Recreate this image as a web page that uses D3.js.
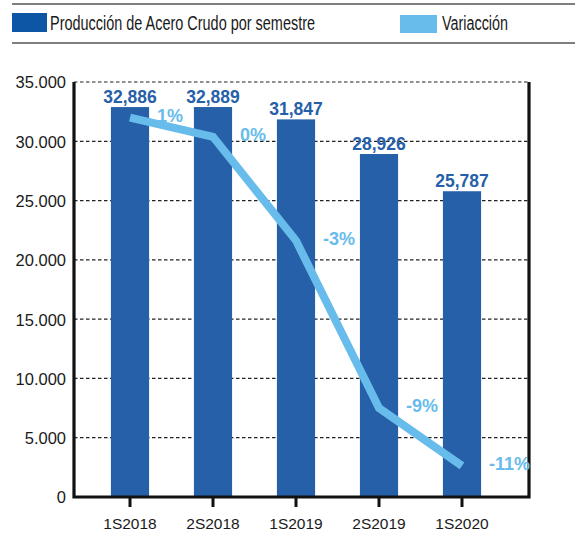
<!DOCTYPE html>
<html>
<head>
<meta charset="utf-8">
<script src="https://cdn.jsdelivr.net/npm/d3@7"></script>
<style>
  body { margin: 0; background: #fff; }
  svg { display: block; }
  .tick-y text { font-family: "Liberation Sans", Arial, sans-serif; font-size: 16.5px; fill: #1a1a1a; }
  .tick-x text { font-family: "Liberation Sans", Arial, sans-serif; font-size: 15.5px; fill: #1a1a1a; }
  .legend text { font-family: "Liberation Sans", Arial, sans-serif; font-size: 19.5px; fill: #1a1a1a; }
</style>
</head>
<body>
<div id="chart"></div>
<script>
const semesters = ['1S2018', '2S2018', '1S2019', '2S2019', '1S2020'];
const production = [32886, 32889, 31847, 28926, 25787];
const productionLabels = ['32,886', '32,889', '31,847', '28,926', '25,787'];
// line positions (hidden secondary scale, %)
const variation = [0.8, 0.15, -3.35, -9.0, -10.95];
const variationLabels = ['1%', '0%', '-3%', '-9%', '-11%'];
const yTicks = [0, 5000, 10000, 15000, 20000, 25000, 30000, 35000];
const legendItems = ['Producción de Acero Crudo por semestre', 'Variacción'];

const width = 575;
const height = 537;
const dark = '#2660a8';
const light = '#67bceb';

const plot = { left: 74, right: 529, top: 82, bottom: 497 };

const locale = d3.formatLocale({ decimal: ',', thousands: '.', grouping: [3], currency: ['', ''] });
const fmt = locale.format(',d');

const svg = d3.select('#chart')
  .append('svg')
    .attr('width', width)
    .attr('height', height);

// legend
const legend = svg.append('g').attr('class', 'legend');

legend.append('line')
  .attr('x1', 12).attr('x2', width)
  .attr('y1', 4).attr('y2', 4)
  .attr('stroke', '#555').attr('stroke-width', 1.5);

legend.append('line')
  .attr('x1', 12).attr('x2', width)
  .attr('y1', 43).attr('y2', 43)
  .attr('stroke', '#555').attr('stroke-width', 1.5);

// the original uses a condensed face; squeeze to the same width
legend.append('rect')
  .attr('x', 12).attr('y', 13).attr('width', 35).attr('height', 19)
  .attr('fill', '#0d56a5');
legend.append('text')
  .attr('x', 50).attr('y', 30)
  .attr('textLength', 265)
  .attr('lengthAdjust', 'spacingAndGlyphs')
  .text(legendItems[0]);

legend.append('rect')
  .attr('x', 400).attr('y', 15).attr('width', 37).attr('height', 18)
  .attr('fill', light);
legend.append('text')
  .attr('x', 442).attr('y', 30)
  .attr('textLength', 66)
  .attr('lengthAdjust', 'spacingAndGlyphs')
  .text(legendItems[1]);

// scales
const xScale = d3.scaleBand()
  .domain(semesters)
  .range([88.5, 503.5])
  .paddingInner(0.54)
  .paddingOuter(0.27);

const yScale = d3.scaleLinear()
  .domain([0, 35000])
  .range([plot.bottom, plot.top]);

const y2Scale = d3.scaleLinear()
  .domain([-12, 2])
  .range([plot.bottom, plot.top]);

const cx = d => xScale(d) + xScale.bandwidth() / 2;

// grid lines
svg.append('g')
  .selectAll('line')
  .data(yTicks.filter(d => d > 0))
  .enter().append('line')
    .attr('x1', plot.left)
    .attr('x2', plot.right)
    .attr('y1', d => yScale(d))
    .attr('y2', d => yScale(d))
    .attr('stroke', '#222')
    .attr('stroke-width', 1.2)
    .attr('stroke-dasharray', '3.5,2.5');

// bars
svg.append('g')
  .selectAll('rect')
  .data(production)
  .enter().append('rect')
    .attr('x', (d, i) => xScale(semesters[i]))
    .attr('y', d => yScale(d))
    .attr('width', xScale.bandwidth())
    .attr('height', d => plot.bottom - yScale(d))
    .attr('fill', dark);

// y axis
const yAxis = d3.axisLeft(yScale)
  .tickValues(yTicks)
  .tickFormat(fmt)
  .tickSize(0)
  .tickPadding(8);

svg.append('g')
  .attr('class', 'tick-y')
  .attr('transform', `translate(${plot.left}, 0)`)
  .call(yAxis)
  .call(g => g.select('.domain').remove())
  .selectAll('text')
    .attr('dy', '0.36em');

// x axis
const xAxis = d3.axisBottom(xScale)
  .tickSize(10)
  .tickPadding(11);

svg.append('g')
  .attr('class', 'tick-x')
  .attr('transform', `translate(0, ${plot.bottom})`)
  .call(xAxis)
  .call(g => g.select('.domain').remove())
  .call(g => g.selectAll('.tick line').attr('stroke', '#111').attr('stroke-width', 3));

// frame: left axis, bottom axis, right border
svg.append('path')
  .attr('d', `M${plot.left},${plot.top} V${plot.bottom} H${plot.right} V${plot.top}`)
  .attr('fill', 'none')
  .attr('stroke', '#111')
  .attr('stroke-width', 3.2);

// variation line
const line = d3.line()
  .x((d, i) => cx(semesters[i]))
  .y(d => y2Scale(d));

svg.append('path')
  .datum(variation)
  .attr('d', line)
  .attr('fill', 'none')
  .attr('stroke', light)
  .attr('stroke-width', 8);

// bar value labels
svg.append('g')
  .selectAll('text')
  .data(production)
  .enter().append('text')
    .attr('x', (d, i) => cx(semesters[i]))
    .attr('y', d => yScale(d) - 4)
    .attr('text-anchor', 'middle')
    .attr('font-family', '"Liberation Sans", Arial, sans-serif')
    .attr('font-weight', 'bold')
    .attr('font-size', 17.5)
    .attr('fill', dark)
    .text((d, i) => productionLabels[i]);

// variation labels
svg.append('g')
  .selectAll('text')
  .data(variation)
  .enter().append('text')
    .attr('x', (d, i) => cx(semesters[i]) + 27)
    .attr('y', d => y2Scale(d) + 4)
    .attr('font-family', '"Liberation Sans", Arial, sans-serif')
    .attr('font-weight', 'bold')
    .attr('font-size', 18)
    .attr('fill', light)
    .text((d, i) => variationLabels[i]);
</script>
</body>
</html>
